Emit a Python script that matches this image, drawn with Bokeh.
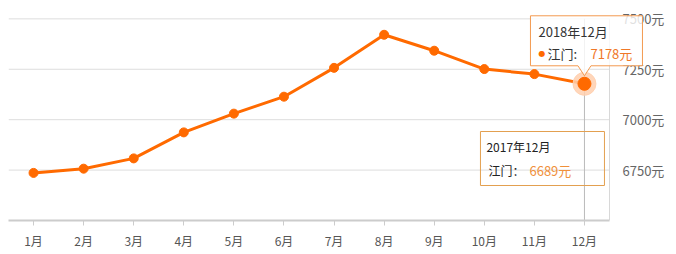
from bokeh.plotting import figure
from bokeh.models import Range1d, FixedTicker, PolyAnnotation, Label
from bokeh.embed import file_html
from bokeh.resources import INLINE

# ---- data ----
months = ["1月", "2月", "3月", "4月", "5月", "6月", "7月", "8月", "9月", "10月", "11月", "12月"]
prices_2018 = [6736, 6757, 6808, 6937, 7030, 7114, 7257, 7421, 7342, 7251, 7226, 7178]
y_ticks = [6750, 7000, 7250, 7500]
city = "江门"
current_period = "2018年12月"
compare_period = "2017年12月"
compare_price = 6689

# ---- layout constants ----
W, H = 676, 254
LEFT, BOTTOM = 8, 34
PLOT_W = 601                       # width of the 12 month bands in px
Y0, Y1 = 6500, 7591
X0, XB = 0.5, 12.5                 # month band extent
FRAME_W = W - LEFT
FRAME_H = H - BOTTOM
PX_PER_X = PLOT_W / (XB - X0)
X1 = X0 + FRAME_W / PX_PER_X       # frame extends under the right labels
FONT = "Noto Sans CJK SC"
ORANGE = "#ff6a00"

xs = list(range(1, len(months) + 1))

p = figure(width=W, height=H, output_backend="svg", toolbar_location=None,
           x_range=Range1d(X0, X1), y_range=Range1d(Y0, Y1),
           y_axis_location="right",
           min_border_left=LEFT, min_border_right=0, min_border_top=0, min_border_bottom=BOTTOM)
p.outline_line_color = None
p.background_fill_color = "white"
p.border_fill_color = "white"

# x axis
p.xaxis.ticker = FixedTicker(ticks=xs)
p.xaxis.bounds = (X0, XB)
p.xaxis.major_label_overrides = {x: m for x, m in zip(xs, months)}
p.xaxis.axis_line_color = "#cccccc"
p.xaxis.axis_line_width = 2
p.xaxis.major_tick_line_color = "#cccccc"
p.xaxis.major_tick_out = 5
p.xaxis.major_tick_in = 0
p.xaxis.minor_tick_line_color = None
p.xaxis.major_label_text_font = FONT
p.xaxis.major_label_text_font_size = "12px"
p.xaxis.major_label_text_color = "#555555"
p.xaxis.major_label_standoff = 6
p.xgrid.visible = False

# y axis (drawn at the right edge of the month bands)
p.yaxis.fixed_location = XB
p.yaxis.level = "underlay"
p.yaxis.ticker = FixedTicker(ticks=y_ticks)
p.yaxis.major_label_overrides = {t: f"{t}元" for t in y_ticks}
p.yaxis.axis_line_color = None
p.yaxis.major_tick_line_color = None
p.yaxis.minor_tick_line_color = None
p.yaxis.major_label_text_font = FONT
p.yaxis.major_label_text_font_size = "13px"
p.yaxis.major_label_text_color = "#666666"
p.yaxis.major_label_standoff = 7
p.ygrid.visible = False

# grid lines limited to the plot bands
p.segment(x0=[X0] * len(y_ticks), y0=y_ticks, x1=[XB] * len(y_ticks), y1=y_ticks,
          line_color="#dddddd", line_width=1)

# right border and crosshair
p.segment(x0=[XB], y0=[Y0], x1=[XB], y1=[y_ticks[-1]], line_color="#d8d8d8", line_width=1)
p.segment(x0=[xs[-1]], y0=[Y0], x1=[xs[-1]], y1=[y_ticks[-1]], line_color="#bbbbbb", line_width=1)

# series
p.line(xs, prices_2018, line_color=ORANGE, line_width=3)
p.scatter(xs[:-1], prices_2018[:-1], size=9, color=ORANGE)
p.scatter([xs[-1]], [prices_2018[-1]], size=23, color="#ffcfae", alpha=0.85)
p.scatter([xs[-1]], [prices_2018[-1]], size=13, color=ORANGE)

# pixel -> data helpers
def dx(px):
    return px / PX_PER_X

def dy(px):
    return px * (Y1 - Y0) / FRAME_H

ax, ay = xs[-1], prices_2018[-1]

# tooltip 1 (current)
t_left, t_right = ax + dx(-54), ax + dx(58)
t_top, t_bot = ay + dy(68), ay + dy(18)
tip1 = PolyAnnotation(
    xs=[t_left, t_right, t_right, ax + dx(6.5), ax, ax - dx(6.5), t_left],
    ys=[t_top, t_top, t_bot, t_bot, ay + dy(8), t_bot, t_bot],
    fill_color="white", fill_alpha=0.8, line_color="#f39a50", line_alpha=1.0,
    line_width=1, level="overlay")
p.add_layout(tip1)
p.add_layout(Label(x=ax + dx(-46), y=ay + dy(52), text=current_period, text_font=FONT,
                   text_font_size="13px", text_color="#333333", text_baseline="middle", level="overlay"))
p.add_layout(Label(x=ax + dx(-46), y=ay + dy(30), text="●", text_font="DejaVu Sans",
                   text_font_size="8px", text_color=ORANGE, text_baseline="middle", level="overlay"))
p.add_layout(Label(x=ax + dx(-37), y=ay + dy(30), text=f"{city}:", text_font=FONT,
                   text_font_size="13px", text_color="#333333", text_baseline="middle", level="overlay"))
p.add_layout(Label(x=ax + dx(6), y=ay + dy(30), text=f"{prices_2018[-1]}元", text_font=FONT,
                   text_font_size="13px", text_color="#f07828", text_baseline="middle", level="overlay"))

# tooltip 2 (comparison)
b_left, b_right = ax + dx(-104), ax + dx(20)
b_top, b_bot = Y0 + dy(89), Y0 + dy(35)
tip2 = PolyAnnotation(xs=[b_left, b_right, b_right, b_left], ys=[b_top, b_top, b_bot, b_bot],
                      fill_color=None, line_color="#e3a050", line_alpha=1.0, line_width=1,
                      level="overlay")
p.add_layout(tip2)
p.add_layout(Label(x=ax + dx(-98), y=Y0 + dy(74), text=compare_period, text_font=FONT,
                   text_font_size="12px", text_color="#222222", text_baseline="middle", level="overlay"))
p.add_layout(Label(x=ax + dx(-96), y=Y0 + dy(50), text=f"{city}：", text_font=FONT,
                   text_font_size="12px", text_color="#222222", text_baseline="middle", level="overlay"))
p.add_layout(Label(x=ax + dx(-55), y=Y0 + dy(50), text=f"{compare_price}元", text_font=FONT,
                   text_font_size="13px", text_color="#f0903a", text_baseline="middle", level="overlay"))

open("out.html", "w").write(file_html(p, INLINE))
